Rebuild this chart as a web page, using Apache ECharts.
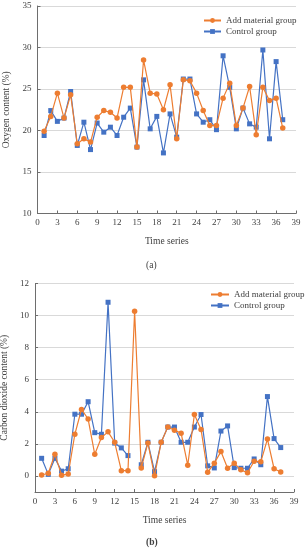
<!DOCTYPE html>
<html>
<head>
<meta charset="utf-8">
<script src="https://cdn.jsdelivr.net/npm/echarts@6/dist/echarts.min.js"></script>
<style>html,body{margin:0;padding:0;background:#fff}#c{width:305px;height:550px}</style>
</head>
<body>
<div id="c"></div>
<script>
var timeSeries = [];
for (var i = 1; i <= 37; i++) timeSeries.push(i);

var o2Add = [19.9,21.7,24.5,21.5,24.3,18.4,19.0,18.6,21.6,22.4,22.2,21.5,25.2,25.2,18.0,28.5,24.5,24.4,22.5,25.5,19.0,26.1,26.0,24.5,22.4,20.6,20.6,23.9,25.7,20.6,22.7,25.3,19.5,25.2,23.6,23.9,20.3];
var o2Ctrl = [19.4,22.4,21.1,21.5,24.7,18.2,21.0,17.7,20.9,19.8,20.4,19.4,21.6,22.7,18.0,26.1,20.2,21.7,17.3,22.0,19.2,26.2,26.2,22.0,21.0,21.3,20.1,29.0,25.2,20.2,22.7,20.8,20.4,29.7,19.0,28.3,21.3];

var co2Add = [0.06,0.17,1.35,0.05,0.12,2.6,4.15,3.55,1.35,2.4,2.75,2.1,0.33,0.33,10.27,0.5,2.05,0.02,2.1,3.05,2.85,2.67,0.67,3.83,2.9,0.23,0.8,1.52,0.48,0.8,0.38,0.2,0.92,0.88,2.3,0.45,0.25];
var co2Ctrl = [1.1,0.1,1.1,0.3,0.45,3.85,3.85,4.63,2.7,2.6,10.83,2.05,1.75,1.27,null,0.7,2.1,0.27,2.1,3.05,3.05,2.1,2.1,3.05,3.83,0.63,0.5,2.8,3.12,0.52,0.48,0.48,1.06,0.7,4.95,2.33,1.77];

var xTicks = [0,3,6,9,12,15,18,21,24,27,30,33,36,39];
var o2Ticks = [10,15,20,25,30,35];
var co2Ticks = [0,2,4,6,8,10,12];

var names = ['Add material group','Control group'];
var ORANGE = '#ED7D31', BLUE = '#4472C4';
var FONT = 'Liberation Serif';
var axisCol = '#6e6e6e', gridCol = '#d9d9d9', txtCol = '#404040';

function pairs(arr){ return arr.map(function(v,i){ return [timeSeries[i], v]; }); }

function xAxis(gi){
  return {
    gridIndex: gi, type: 'value', min: 0, max: 39, interval: 3,
    name: 'Time series', nameLocation: 'middle', nameGap: 23,
    nameTextStyle: {fontFamily: FONT, fontSize: 9.5, color: txtCol},
    axisLine: {show: true, onZero: false, lineStyle: {color: axisCol, width: 1}},
    axisTick: {show: true, inside: true, length: 3, customValues: xTicks, lineStyle: {color: axisCol}},
    axisLabel: {fontFamily: FONT, fontSize: 9, color: txtCol, margin: 5, customValues: xTicks},
    splitLine: {show: false}
  };
}

function series(name, data, gi, color, sym){
  return {
    name: name, type: 'line', xAxisIndex: gi, yAxisIndex: gi,
    data: pairs(data), symbol: sym, symbolSize: sym === 'rect' ? 5 : 5.5,
    connectNulls: false,
    lineStyle: {color: color, width: 1.2},
    itemStyle: {color: color},
    z: name === names[0] ? 3 : 2,
    animation: false
  };
}

var chart = echarts.init(document.getElementById('c'), null, {renderer: 'canvas'});
chart.setOption({
  animation: false,
  backgroundColor: '#fff',
  grid: [
    {left: 37.5, right: 9, top: 6, height: 207.5, containLabel: false, outerBoundsMode: 'none'},
    {left: 35, right: 11, top: 283.5, height: 208.5, containLabel: false, outerBoundsMode: 'none'}
  ],
  xAxis: [xAxis(0), xAxis(1)],
  yAxis: [
    {
      gridIndex: 0, type: 'value', min: 10, max: 35, interval: 5,
      name: 'Oxygen content (%)', nameLocation: 'middle', nameGap: 26,
      nameTextStyle: {fontFamily: FONT, fontSize: 9.5, color: txtCol},
      axisLine: {show: true, lineStyle: {color: axisCol}},
      axisTick: {show: true, inside: true, length: 3, lineStyle: {color: axisCol}},
      axisLabel: {fontFamily: FONT, fontSize: 9, color: txtCol, margin: 6},
      splitLine: {show: true, lineStyle: {color: gridCol, width: 1}}
    },
    {
      gridIndex: 1, type: 'value', min: -1, max: 12,
      name: 'Carbon dioxide content (%)', nameLocation: 'middle', nameGap: 24,
      nameTextStyle: {fontFamily: FONT, fontSize: 9.5, color: txtCol},
      axisLine: {show: true, lineStyle: {color: axisCol}},
      axisTick: {show: true, inside: true, length: 3, customValues: co2Ticks, lineStyle: {color: axisCol}},
      axisLabel: {fontFamily: FONT, fontSize: 9, color: txtCol, margin: 6, customValues: co2Ticks},
      splitLine: {show: true, lineStyle: {color: gridCol, width: 1}}
    }
  ],
  legend: [
    {
      data: names, orient: 'vertical', left: 203, top: 16, itemGap: 2, padding: 0,
      itemWidth: 17, itemHeight: 6,
      textStyle: {fontFamily: FONT, fontSize: 9, color: txtCol}
    },
    {
      data: names, orient: 'vertical', left: 210, top: 290, itemGap: 2, padding: 0,
      itemWidth: 18, itemHeight: 6,
      textStyle: {fontFamily: FONT, fontSize: 9, color: txtCol}
    }
  ],
  graphic: [
    {type: 'text', left: 146, top: 260, style: {text: '(a)', font: '9.5px "Liberation Serif"', fill: txtCol}},
    {type: 'text', left: 146, top: 538, style: {text: '(b)', font: 'bold 9.5px "Liberation Serif"', fill: txtCol}}
  ],
  series: [
    series(names[0], o2Add, 0, ORANGE, 'circle'),
    series(names[1], o2Ctrl, 0, BLUE, 'rect'),
    series(names[0], co2Add, 1, ORANGE, 'circle'),
    series(names[1], co2Ctrl, 1, BLUE, 'rect')
  ]
});
</script>
</body>
</html>
